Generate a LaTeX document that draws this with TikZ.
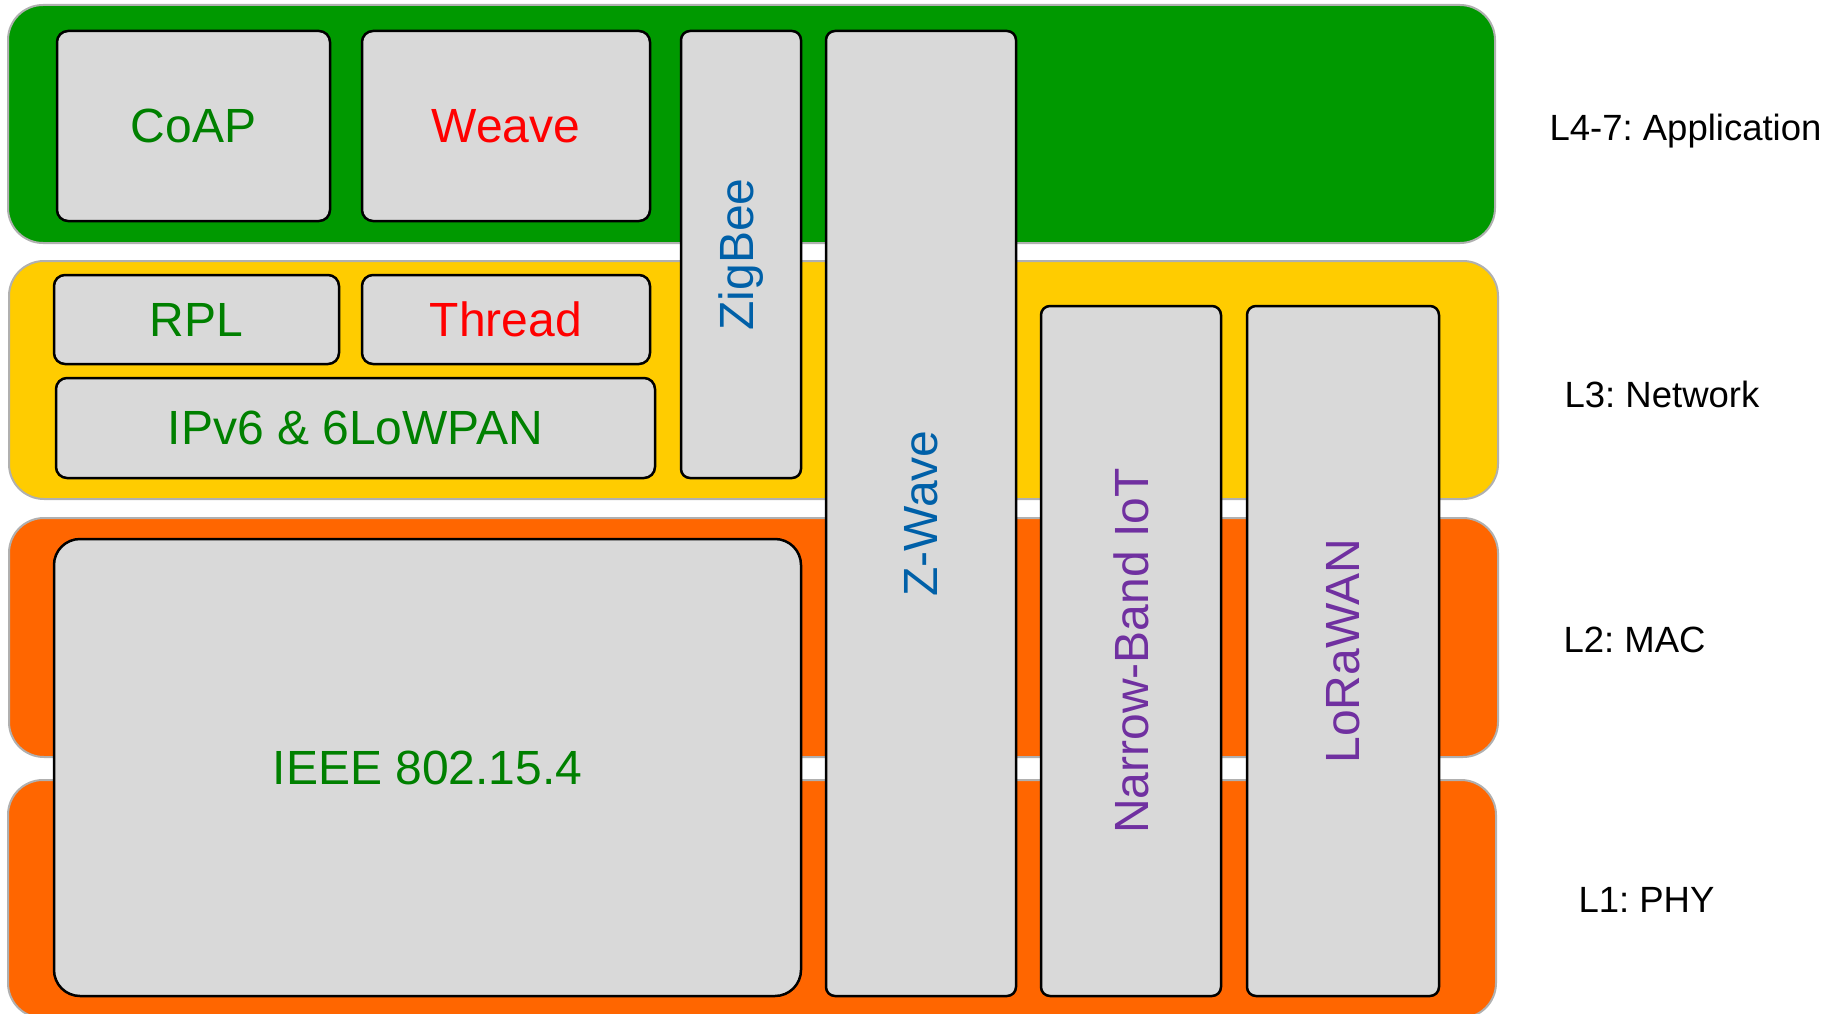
\documentclass[tikz,border=0pt]{standalone}
\usepackage{fontspec}
\setmainfont{Liberation Sans}
\frenchspacing
\definecolor{appgreen}{HTML}{009900}
\definecolor{netyellow}{HTML}{FFCC00}
\definecolor{macorange}{HTML}{FF6600}
\definecolor{boxgray}{HTML}{D9D9D9}
\definecolor{bandedge}{HTML}{B0B0B0}
\definecolor{txtgreen}{HTML}{008000}
\definecolor{txtred}{HTML}{FF0000}
\definecolor{txtblue}{HTML}{0060A8}
\definecolor{txtpurple}{HTML}{7030A0}
\tikzset{
  band/.style={draw=bandedge, line width=2pt, rounded corners=35pt, inner sep=0pt, outer sep=0pt},
  proto/.style={draw=black, fill=boxgray, line width=2.5pt, rounded corners=11pt, inner sep=0pt, outer sep=0pt,
    font=\fontsize{48}{57}\selectfont, align=center},
  layerlabel/.style={font=\fontsize{36.5}{43}\selectfont, anchor=base, inner sep=0pt}
}
\begin{document}
\begin{tikzpicture}[x=1pt,y=-1pt]
\useasboundingbox (0,0) rectangle (1839,1014);
\clip (0,0) rectangle (1839,1014);
% layer bands
\node[band, fill=appgreen, minimum width=1487pt, minimum height=238pt] (app) at (751.5,124) {};
\node[band, fill=netyellow, minimum width=1489pt, minimum height=238pt] (net) at (753.5,380) {};
\node[band, fill=macorange, minimum width=1489pt, minimum height=239pt] (mac) at (753.5,637.5) {};
\node[band, fill=macorange, minimum width=1488pt, minimum height=238pt] (phy) at (752,899) {};
% protocol boxes
\node[proto, text=txtgreen, minimum width=273pt, minimum height=190pt] (coap) at (193.5,126) {CoAP};
\node[proto, text=txtred, minimum width=288pt, minimum height=190pt] (weave) at (506,126) {Weave};
\node[proto, text=txtgreen, minimum width=285pt, minimum height=89pt] (rpl) at (196.5,319.5) {RPL};
\node[proto, text=txtred, minimum width=288pt, minimum height=89pt] (thread) at (506,319.5) {Thread};
\node[proto, text=txtgreen, minimum width=599pt, minimum height=100pt] (ipv6) at (355.5,428) {IPv6 \& 6LoWPAN};
\node[proto, text=txtgreen, rounded corners=26pt, minimum width=747pt, minimum height=457pt] (ieee) at (427.5,767.5) {IEEE 802.15.4};
\node[proto, text=txtblue, rounded corners=9pt, minimum width=120pt, minimum height=447pt] (zigbee) at (741,254.5) {\rotatebox{90}{ZigBee}};
\node[proto, text=txtblue, rounded corners=9pt, minimum width=190pt, minimum height=965pt] (zwave) at (921,513.5) {\rotatebox{90}{Z-Wave}};
\node[proto, text=txtpurple, rounded corners=9pt, minimum width=180pt, minimum height=690pt] (nbiot) at (1131,651) {\rotatebox{90}{Narrow-Band IoT}};
\node[proto, text=txtpurple, rounded corners=9pt, minimum width=192pt, minimum height=690pt] (lora) at (1343,651) {\rotatebox{90}{LoRaWAN}};
% layer labels
\node[layerlabel] (lapp) at (1685.5,140) {L4-7: Application};
\node[layerlabel] (lnet) at (1662,407) {L3: Network};
\node[layerlabel] (lmac) at (1634.5,652) {L2: MAC};
\node[layerlabel] (lphy) at (1646.5,912) {L1: PHY};
\end{tikzpicture}
\end{document}
